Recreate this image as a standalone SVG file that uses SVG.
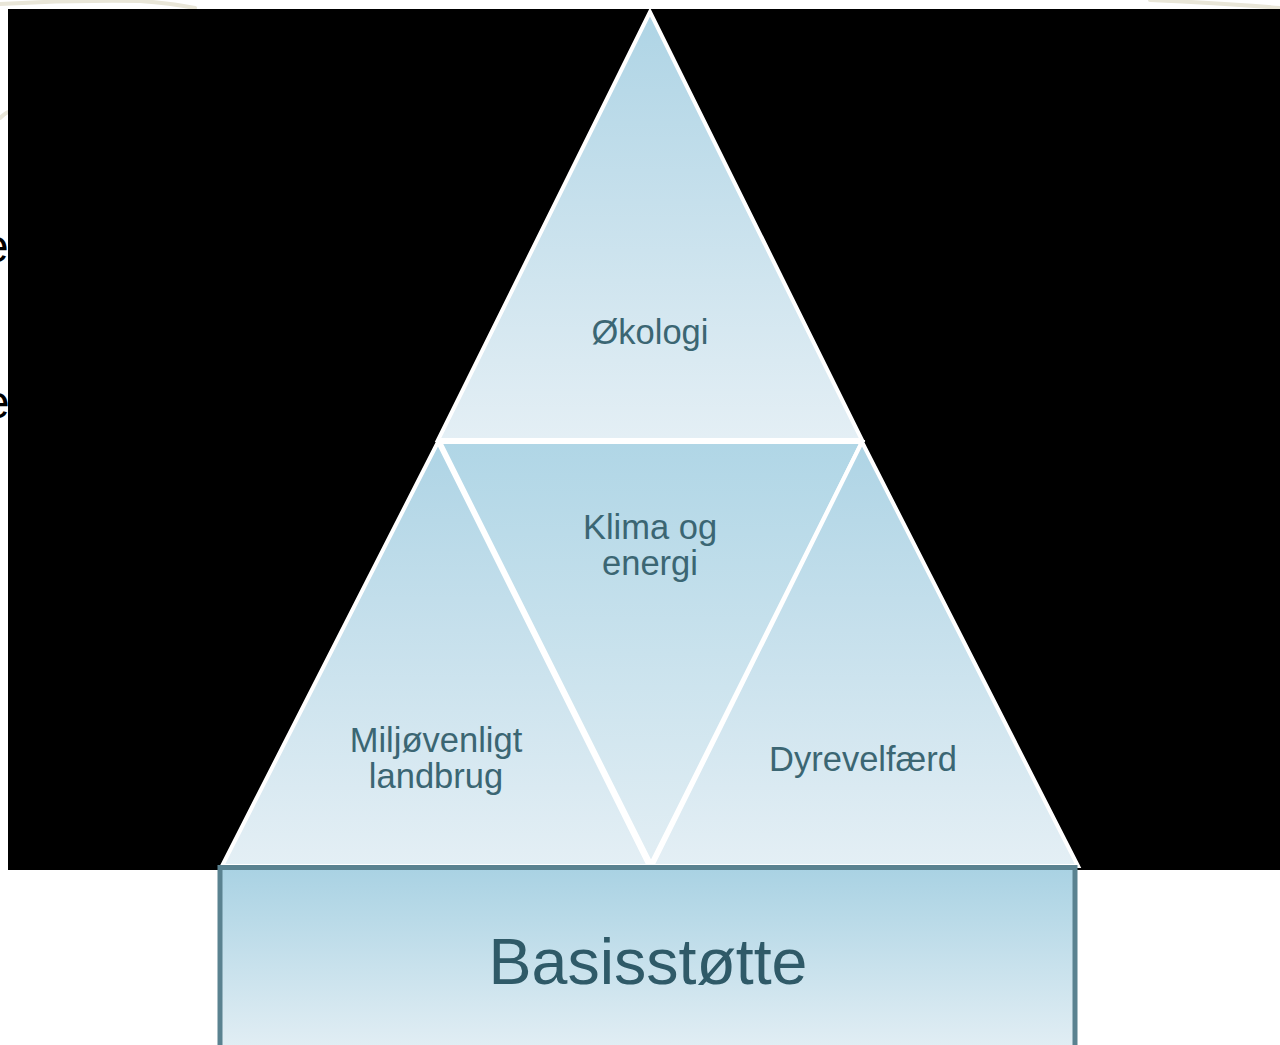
<svg xmlns="http://www.w3.org/2000/svg" width="1280" height="1045" viewBox="0 0 1280 1045">
<defs>
<linearGradient id="gTri" x1="0" y1="0" x2="0" y2="1">
<stop offset="0" stop-color="#aed4e5"/>
<stop offset="1" stop-color="#e4eff5"/>
</linearGradient>
<linearGradient id="gTriInv" x1="0" y1="0" x2="0" y2="1">
<stop offset="0" stop-color="#b0d6e6"/>
<stop offset="1" stop-color="#e2eef4"/>
</linearGradient>
<linearGradient id="gBase" x1="0" y1="0" x2="0" y2="1">
<stop offset="0" stop-color="#a9d2e3"/>
<stop offset="1" stop-color="#e2eef4"/>
</linearGradient>
<style>
.tri{stroke:#ffffff;stroke-width:4;stroke-linejoin:miter}
.lbl{font-family:"Liberation Sans",Arial,sans-serif;font-size:34.5px;fill:#3b6673;text-anchor:middle}
.big{font-family:"Liberation Sans",Arial,sans-serif;font-size:64.5px;fill:#2f5a68;text-anchor:middle}
.bg{font-family:"Liberation Sans",Arial,sans-serif;font-size:46px;fill:#000}
.curve{fill:none;stroke:#e9e6d8;stroke-width:4;stroke-linecap:round}
</style>
</defs>
<rect x="0" y="0" width="1280" height="1045" fill="#ffffff"/>
<g id="background">
<path class="curve" d="M0 4 Q70 0 140 1 Q170 3 195 8"/>
<path class="curve" d="M1150 0 Q1220 3 1280 8"/>
<path class="curve" d="M0 118 Q4 114 8 112"/>
<text class="bg" x="-17" y="262">e</text>
<text class="bg" x="-16" y="418">e</text>
<rect x="8" y="9" width="1272" height="861" fill="#000000"/>
</g>
<g id="node-okologi">
<polygon class="tri" points="650,12 438,440 862,440" fill="url(#gTri)"/>
<text class="lbl" x="650" y="344">Økologi</text>
</g>
<g id="node-klima">
<polygon class="tri" points="440,442 862,442 651,864" fill="url(#gTriInv)"/>
<text class="lbl" x="650" y="539">Klima og</text>
<text class="lbl" x="650" y="575">energi</text>
</g>
<g id="node-miljo">
<polygon class="tri" points="438,442 649,866 222,866" fill="url(#gTri)"/>
<text class="lbl" x="436" y="752">Miljøvenligt</text>
<text class="lbl" x="436" y="788">landbrug</text>
</g>
<g id="node-dyre">
<polygon class="tri" points="862,442 1078,866 652,866" fill="url(#gTri)"/>
<text class="lbl" x="863" y="771">Dyrevelfærd</text>
</g>
<g id="node-basis">
<rect x="220" y="867.5" width="855" height="182" fill="url(#gBase)" stroke="#5a8290" stroke-width="5"/>
<text class="big" x="648" y="984">Basisstøtte</text>
</g>
<g id="connectors"></g>
</svg>
